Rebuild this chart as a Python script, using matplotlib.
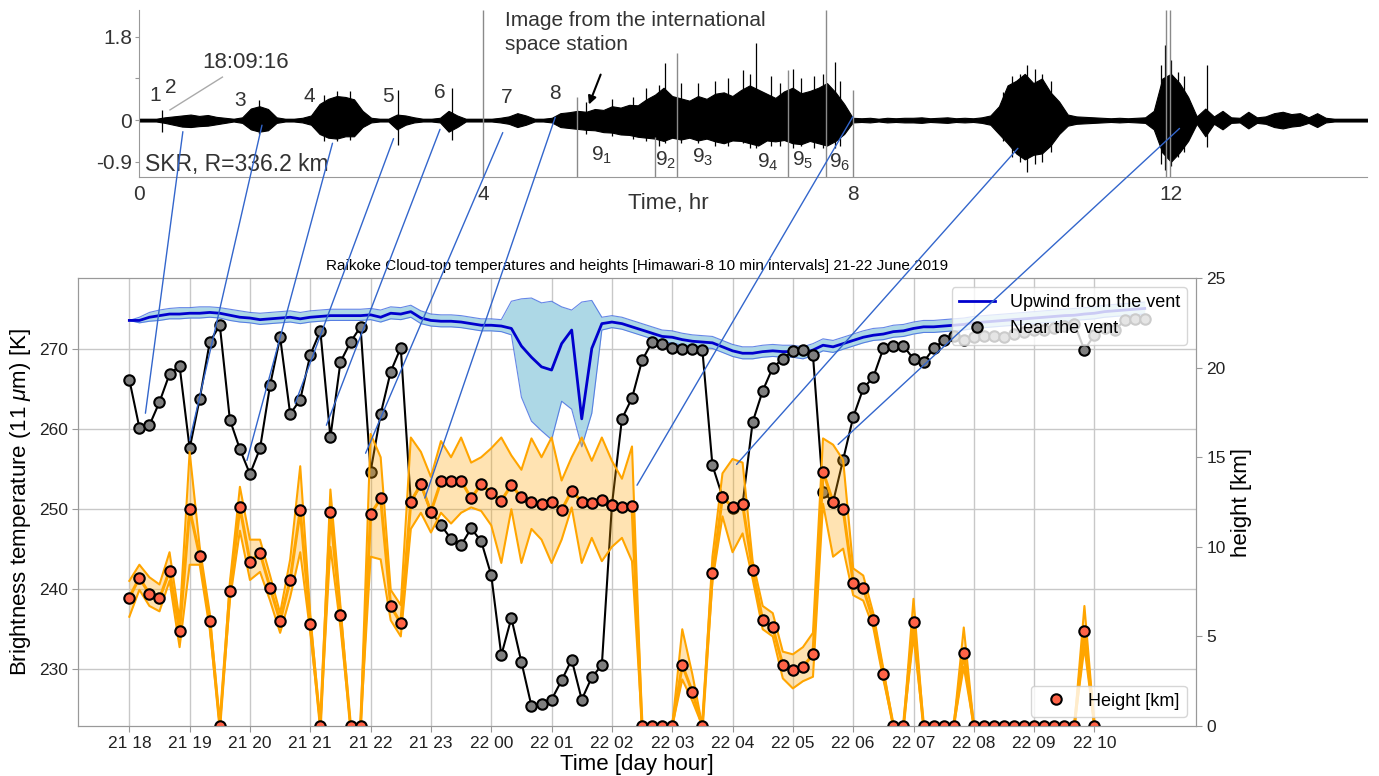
import numpy as np
import pandas as pd
import matplotlib
matplotlib.use("Agg")
import matplotlib.pyplot as plt
import matplotlib.dates as mdates
from matplotlib.patches import ConnectionPatch

plt.rcParams['font.family'] = ['Liberation Sans', 'DejaVu Sans']
plt.rcParams['mathtext.fontset'] = 'custom'
plt.rcParams['mathtext.rm'] = 'Liberation Sans'
plt.rcParams['mathtext.it'] = 'Liberation Sans:italic'

# ---------------- Himawari-8 data (10 min steps from 21 June 18:00) ----------------
near_vent = [266.2, 260.2, 260.5, 263.4, 266.9, 267.9, 257.6, 263.8, 270.9, 273.0,
             261.2, 257.5, 254.4, 257.6, 265.5, 271.5, 261.9, 263.7, 269.3, 272.3,
             259.0, 268.4, 270.9, 272.8, 254.7, 261.9, 267.2, 270.2, 250.9, 253.1,
             249.7, 248.0, 246.3, 245.5, 247.6, 246.0, 241.75, 231.75, 236.4, 230.9,
             225.4, 225.6, 226.2, 228.6, 231.2, 226.2, 229.0, 230.5, 250.5, 261.3,
             263.9, 268.6, 270.9, 270.6, 270.2, 270.0, 270.0, 269.9, 255.5, 251.55,
             250.2, 250.65, 260.9, 264.8, 267.7, 268.8, 269.8, 269.9, 269.25, 252.2,
             250.9, 256.2, 261.5, 265.1, 266.5, 270.1, 270.4, 270.4, 268.8, 268.4,
             270.1, 271.1, 271.6, 271.2, 271.5, 271.6, 271.6, 271.5, 271.9, 272.2,
             272.4, 272.4, 272.6, 272.9, 273.2, 269.9, 271.8, 272.6, 272.4, 273.6,
             273.8, 273.8]

upwind = [273.6, 273.6, 274.0, 274.2, 274.4, 274.4, 274.5, 274.5, 274.6, 274.5,
          274.25, 274.0, 273.9, 273.7, 273.8, 273.9, 274.0, 273.8, 274.0, 274.1,
          274.2, 274.2, 274.2, 274.2, 274.3, 274.0, 274.5, 274.4, 274.7, 273.9,
          273.6, 273.5, 273.5, 273.4, 273.2, 273.0, 273.0, 272.9, 272.6, 270.4,
          269.0, 267.8, 267.4, 270.7, 272.4, 261.3, 270.1, 273.2, 273.4, 273.2,
          272.8, 272.4, 272.0, 271.6, 271.5, 271.2, 271.0, 270.9, 270.8, 270.3,
          269.8, 269.5, 269.5, 269.7, 269.8, 269.7, 269.7, 269.5, 269.9, 270.5,
          270.3, 270.7, 271.1, 271.5, 271.75, 271.9, 272.2, 272.3, 272.6, 272.8,
          272.8, 272.9, 273.0, 273.1, 273.3, 273.4, 273.5, 273.6, 273.7, 273.8,
          273.9, 274.0, 274.1, 274.2, 274.25, 274.4, 274.5, 274.7, 274.8, 274.9,
          275.0, 275.1]

upwind_hi = [273.6, 274.0, 274.6, 274.9, 275.1, 275.2, 275.2, 275.3, 275.3, 275.2,
             275.0, 274.8, 274.6, 274.5, 274.6, 274.7, 274.8, 274.6, 274.8, 274.9,
             275.0, 275.0, 275.0, 275.0, 275.1, 274.9, 275.3, 275.2, 275.5, 274.8,
             274.4, 274.3, 274.3, 274.2, 274.0, 273.8, 273.8, 273.7, 276.0, 276.3,
             276.4, 275.8, 276.0, 275.3, 274.9, 275.9, 276.1, 274.0, 274.2, 274.0,
             273.6, 273.2, 272.8, 272.4, 272.3, 272.0, 271.8, 271.7, 271.6, 271.1,
             270.6, 270.3, 270.3, 270.5, 270.6, 270.5, 270.5, 270.3, 270.7, 271.3,
             271.1, 271.5, 271.9, 272.3, 272.6, 272.7, 273.0, 273.1, 273.4, 273.6,
             273.6, 273.7, 273.8, 273.9, 274.1, 274.2, 274.3, 274.4, 274.5, 274.6,
             274.7, 274.8, 274.9, 275.0, 275.1, 275.2, 275.3, 275.5, 275.6, 275.7,
             275.8, 275.9]

upwind_lo = [273.6, 273.3, 273.5, 273.6, 273.8, 273.8, 273.9, 273.9, 274.0, 273.9,
             273.6, 273.4, 273.3, 273.1, 273.2, 273.3, 273.4, 273.2, 273.4, 273.5,
             273.6, 273.6, 273.6, 273.6, 273.7, 273.4, 273.8, 273.7, 274.0, 273.2,
             272.9, 272.8, 272.8, 272.7, 272.5, 272.3, 272.3, 272.2, 271.8, 264.0,
             261.0, 259.8, 258.7, 263.5, 262.5, 257.8, 262.0, 272.4, 272.7, 272.5,
             272.1, 271.7, 271.3, 270.9, 270.8, 270.5, 270.3, 270.2, 270.1, 269.6,
             269.1, 268.8, 268.8, 269.0, 269.1, 269.0, 269.0, 268.8, 269.2, 269.8,
             269.6, 270.0, 270.4, 270.8, 271.1, 271.2, 271.5, 271.6, 271.9, 272.1,
             272.1, 272.2, 272.3, 272.4, 272.6, 272.7, 272.8, 272.9, 273.0, 273.1,
             273.2, 273.3, 273.4, 273.5, 273.6, 273.7, 273.8, 274.0, 274.1, 274.2,
             274.3, 274.4]

height = [7.16, 8.28, 7.37, 7.12, 8.67, 5.32, 12.09, 9.49, 5.86, 0,
          7.53, 12.2, 9.17, 9.67, 7.72, 5.86, 8.15, 12.05, 5.69, 0,
          11.92, 6.19, 0, 0, 11.81, 12.7, 6.7, 5.73, 12.52, 13.49,
          11.96, 13.65, 13.65, 13.7, 12.7, 13.5, 13.0, 12.57, 13.45, 12.76,
          12.52, 12.39, 12.52, 12.05, 13.13, 12.52, 12.46, 12.61, 12.33, 12.2,
          12.28, 0, 0, 0, 0, 3.4, 1.92, 0, 8.52, 12.8,
          12.2, 12.4, 8.7, 5.9, 5.5, 3.4, 3.1, 3.3, 4.0, 14.2,
          12.5, 12.1, 8.0, 7.7, 5.9, 2.9, 0, 0, 5.8, 0,
          0, 0, 0, 4.1, 0, 0, 0, 0, 0, 0,
          0, 0, 0, 0, 0, 5.3, 0]

height_hi = [8.1, 9.0, 8.3, 7.9, 9.7, 5.9, 15.3, 10.0, 6.3, 0,
             8.0, 13.35, 10.4, 10.4, 8.4, 6.3, 9.3, 14.5, 6.2, 0,
             13.2, 6.7, 0, 0, 16.3, 15.0, 7.6, 6.75, 16.1, 15.3,
             13.9, 15.9, 15.0, 16.1, 14.7, 15.0, 15.5, 16.1, 15.1, 14.3,
             16.05, 15.0, 16.1, 13.7, 15.0, 16.1, 14.8, 16.1, 14.8, 13.8,
             15.6, 0, 0, 0, 0, 5.4, 2.9, 0, 9.45, 14.1,
             14.9, 14.7, 9.2, 6.7, 6.3, 4.15, 4.0, 4.4, 5.2, 16.05,
             15.7, 14.85, 8.8, 8.4, 6.3, 3.2, 0, 0, 7.1, 0,
             0, 0, 0, 5.5, 0, 0, 0, 0, 0, 0,
             0, 0, 0, 0, 0, 6.7, 0]

height_lo = [6.1, 7.6, 6.7, 6.4, 8.1, 4.4, 9.0, 9.0, 5.4, 0,
             7.0, 10.9, 8.15, 8.6, 7.0, 5.2, 7.2, 9.7, 5.2, 0,
             10.0, 5.5, 0, 0, 9.45, 9.3, 5.9, 5.0, 11.0, 11.9,
             10.8, 11.9, 11.3, 11.9, 12.2, 12.0, 11.2, 9.1, 12.1, 9.1,
             11.0, 10.4, 9.1, 10.4, 12.2, 9.1, 10.5, 9.2, 10.0, 10.5,
             9.2, 0, 0, 0, 0, 2.6, 1.4, 0, 8.1, 11.7,
             9.7, 10.75, 8.2, 5.4, 5.0, 2.66, 2.1, 2.5, 2.75, 12.4,
             9.45, 9.9, 7.3, 7.0, 5.5, 2.6, 0, 0, 5.0, 0,
             0, 0, 0, 3.3, 0, 0, 0, 0, 0, 0,
             0, 0, 0, 0, 0, 4.4, 0]

xtick_labels = ['21 18', '21 19', '21 20', '21 21', '21 22', '21 23', '22 00', '22 01',
                '22 02', '22 03', '22 04', '22 05', '22 06', '22 07', '22 08', '22 09', '22 10']

# ---------------- SKR seismogram envelope (0.1 hr steps) ----------------
wave_up = [0.03, 0.03, 0.03, 0.06, 0.08, 0.10, 0.12, 0.09, 0.11, 0.07,
           0.05, 0.03, 0.06, 0.25, 0.30, 0.24, 0.06, 0.03, 0.03, 0.05,
           0.10, 0.35, 0.46, 0.52, 0.50, 0.45, 0.20, 0.05, 0.03, 0.03,
           0.12, 0.10, 0.06, 0.03, 0.03, 0.05, 0.20, 0.10, 0.03, 0.03,
           0.03, 0.03, 0.05, 0.08, 0.15, 0.10, 0.03, 0.03, 0.05, 0.15,
           0.17, 0.20, 0.18, 0.24, 0.22, 0.30, 0.27, 0.33, 0.32, 0.45,
           0.55, 0.70, 0.52, 0.47, 0.42, 0.52, 0.46, 0.57, 0.60, 0.52,
           0.65, 0.75, 0.66, 0.57, 0.48, 0.62, 0.70, 0.58, 0.63, 0.70,
           0.80, 0.60, 0.35, 0.05, 0.04, 0.05, 0.03, 0.05, 0.04, 0.05,
           0.05, 0.06, 0.04, 0.05, 0.06, 0.04, 0.05, 0.04, 0.06, 0.10,
           0.30, 0.75, 0.85, 1.00, 0.80, 0.90, 0.60, 0.40, 0.12, 0.08,
           0.07, 0.06, 0.05, 0.04, 0.05, 0.04, 0.05, 0.06, 0.20, 0.90,
           1.00, 0.80, 0.50, 0.08, 0.25, 0.08, 0.20, 0.06, 0.05, 0.18,
           0.06, 0.08, 0.15, 0.18, 0.13, 0.15, 0.06, 0.15, 0.05, 0.03,
           0.03, 0.03, 0.03, 0.03]
wave_dn = [0.03, 0.03, 0.03, 0.06, 0.10, 0.14, 0.15, 0.13, 0.12, 0.09,
           0.06, 0.03, 0.06, 0.20, 0.25, 0.22, 0.06, 0.03, 0.03, 0.05,
           0.10, 0.30, 0.38, 0.40, 0.35, 0.35, 0.15, 0.05, 0.03, 0.03,
           0.20, 0.10, 0.05, 0.03, 0.03, 0.05, 0.25, 0.15, 0.03, 0.03,
           0.03, 0.03, 0.05, 0.08, 0.15, 0.10, 0.03, 0.03, 0.05, 0.15,
           0.17, 0.19, 0.21, 0.22, 0.26, 0.27, 0.31, 0.32, 0.36, 0.38,
           0.40, 0.45, 0.38, 0.42, 0.38, 0.44, 0.40, 0.46, 0.50, 0.44,
           0.45, 0.50, 0.55, 0.44, 0.46, 0.43, 0.50, 0.52, 0.45, 0.50,
           0.55, 0.45, 0.30, 0.05, 0.04, 0.05, 0.03, 0.05, 0.04, 0.05,
           0.05, 0.06, 0.04, 0.05, 0.06, 0.04, 0.05, 0.04, 0.06, 0.10,
           0.30, 0.50, 0.72, 0.85, 0.75, 0.72, 0.55, 0.30, 0.12, 0.08,
           0.07, 0.06, 0.05, 0.04, 0.05, 0.04, 0.05, 0.06, 0.20, 0.70,
           0.90, 0.70, 0.45, 0.08, 0.35, 0.08, 0.20, 0.06, 0.05, 0.18,
           0.06, 0.08, 0.15, 0.18, 0.14, 0.12, 0.06, 0.15, 0.05, 0.03,
           0.03, 0.03, 0.03, 0.03]

spike_t = [0.27, 1.4, 2.15, 2.3, 2.45, 3.01, 3.64, 5.2, 5.5, 5.75, 5.9, 6.05, 6.12, 6.3,
           6.5, 6.7, 6.85, 7.02, 7.1, 7.17, 7.35, 7.45, 7.6, 7.7, 7.85, 7.95, 8.09, 8.15,
           10.05, 10.15, 10.25, 10.33, 10.42, 10.5, 10.6, 11.88, 11.93, 12.0, 12.08, 12.15, 12.42]
spike_up = [0.22, 0.43, 0.55, 0.62, 0.62, 0.65, 0.69, 0.4, 0.45, 0.5, 0.7, 0.75, 1.23, 0.8,
            0.8, 0.85, 0.9, 1.08, 1.0, 1.66, 0.95, 0.8, 1.1, 0.9, 0.95, 1.0, 1.25, 0.85,
            0.6, 0.95, 1.0, 1.19, 1.1, 1.0, 0.85, 1.2, 1.62, 1.3, 1.05, 0.95, 1.19]
spike_dn = [0.25, 0.3, 0.45, 0.45, 0.42, 0.54, 0.43, 0.3, 0.35, 0.4, 0.45, 0.55, 0.5, 0.5,
            0.5, 0.55, 0.55, 0.5, 0.6, 0.6, 0.55, 0.55, 0.6, 0.55, 0.6, 0.6, 0.6, 0.55,
            0.45, 0.8, 0.9, 1.12, 0.95, 0.9, 0.7, 0.95, 1.08, 1.0, 0.8, 0.7, 0.58]

sep_t = [4.0, 5.09, 6.0, 6.26, 7.55, 7.99, 8.3, 11.94, 11.99]
sep_top = [2.38, 0.5, -0.37, 1.45, 1.08, 2.38, 0.65, 2.38, 2.38]

event_labels = ['1', '2', '3', '4', '5', '6', '7', '8']
event_t = [0.19, 0.37, 1.17, 1.98, 2.9, 3.5, 4.28, 4.84]
event_amp = [0.32, 0.5, 0.22, 0.30, 0.30, 0.39, 0.28, 0.37]

sub_labels = ['$9_1$', '$9_2$', '$9_3$', '$9_4$', '$9_5$', '$9_6$']
sub_t = [5.38, 6.12, 6.55, 7.31, 7.72, 8.15]
sub_amp = [-0.76, -0.86, -0.8, -0.91, -0.86, -0.91]

# links: seismic event -> satellite time
link_t = [0.51, 1.43, 2.25, 2.96, 3.50, 4.23, 4.84, 8.30, 10.22, 12.10]
link_amp = [-0.25, -0.11, -0.50, -0.40, -0.20, -0.27, 0.06, 0.07, -0.61, -0.18]
link_time = ['2019-06-21 18:16', '2019-06-21 19:00', '2019-06-21 19:57', '2019-06-21 20:45',
             '2019-06-21 21:16', '2019-06-21 21:55', '2019-06-21 22:54', '2019-06-22 02:25',
             '2019-06-22 04:04', '2019-06-22 05:45']
link_temp = [262.0, 258.6, 256.1, 263.25, 260.5, 257.0, 251.4, 253.0, 255.6, 258.1]

times = pd.date_range('2019-06-21 18:00', periods=len(near_vent), freq='10min')
h_times = times[:len(height)]
hour_ticks = pd.date_range('2019-06-21 18:00', '2019-06-22 10:00', freq='h')

fig = plt.figure(figsize=(13.79, 7.76), dpi=100)

# ---------------- top: seismogram ----------------
txt = '#333333'
axs = fig.add_axes([0.1008, 0.7719, 0.8905, 0.2152])
wave_t = np.round(np.arange(len(wave_up)) * 0.1, 1)
axs.fill_between(wave_t, -np.array(wave_dn), wave_up, color='black', lw=0.8)
axs.axhline(0, color='black', lw=1.2)
axs.vlines(spike_t, -np.array(spike_dn), spike_up, color='black', lw=0.9)
axs.vlines(sep_t, -1.23, sep_top, color='#8a8a8a', lw=1)
axs.set_xlim(0, 14.28)
axs.set_ylim(-1.23, 2.38)
for s in ['top', 'right']:
    axs.spines[s].set_visible(False)
for s in ['left', 'bottom']:
    axs.spines[s].set_color('#999999')
axs.set_xticks([0, 4, 8.3, 12])
axs.set_xticklabels(['0', '4', '8', '12'])
axs.set_yticks([-0.9, 0, 0.9, 1.8])
axs.set_yticklabels(['-0.9', '0', '', '1.8'])
axs.tick_params(axis='x', length=0, pad=6, labelsize=15, labelcolor=txt)
axs.tick_params(axis='y', length=3, pad=2, labelsize=15, labelcolor=txt, color='#999999')
for lab, t, a in zip(event_labels, event_t, event_amp):
    axs.text(t, a, lab, fontsize=15, color=txt, ha='center', va='bottom')
for lab, t, a in zip(sub_labels, sub_t, sub_amp):
    axs.text(t, a, lab, fontsize=15, color=txt, ha='center', va='center')
axs.text(0.73, 1.25, '18:09:16', fontsize=16, color=txt, ha='left', va='center')
axs.plot([0.97, 0.36], [0.93, 0.22], color='#aaaaaa', lw=1)
axs.text(0.07, -0.95, 'SKR, R=336.2 km', fontsize=16.5, color=txt, ha='left', va='center')
axs.text(4.26, 2.36, 'Image from the international\nspace station', fontsize=15,
         color=txt, ha='left', va='top', linespacing=1.35)
axs.annotate('', xy=(5.22, 0.28), xytext=(5.38, 1.04),
             arrowprops=dict(arrowstyle='-|>', color='black', lw=1.5, mutation_scale=12))
axs.text(6.16, -1.81, 'Time, hr', fontsize=16, color=txt, ha='center', va='center',
         clip_on=False)

# ---------------- bottom: cloud-top temperature and height ----------------
ax1 = fig.add_axes([0.0566, 0.0644, 0.8107, 0.5773])
ax1.set_axisbelow(True)
ax1.grid(True, color='#c8c8c8', lw=1)
ax1.fill_between(times, upwind_lo, upwind_hi, color='lightblue', lw=0, zorder=1)
ax1.plot(times, upwind_hi, color='royalblue', lw=0.8, alpha=0.8, zorder=1.5)
ax1.plot(times, upwind_lo, color='royalblue', lw=0.8, alpha=0.8, zorder=1.5)
l_up, = ax1.plot(times, upwind, color='mediumblue', lw=2, label='Upwind from the vent', zorder=2)
ax1.plot(times, near_vent, color='black', lw=1.5, zorder=3)
l_near, = ax1.plot(times, near_vent, 'o', ms=7.5, mfc='#7f7f7f', mec='black', mew=1.5,
                   label='Near the vent', zorder=3)
ax1.set_ylim(222.9, 278.9)
ax1.set_yticks([230, 240, 250, 260, 270])
ax1.set_xlim(pd.Timestamp('2019-06-21 17:09'), pd.Timestamp('2019-06-22 11:41'))
ax1.set_xticks(hour_ticks.to_pydatetime())
ax1.set_xticklabels(xtick_labels)
ax1.set_ylabel('Brightness temperature (11 $\\mu$m) [K]', fontsize=16)
ax1.set_xlabel('Time [day hour]', fontsize=16, labelpad=2)
ax1.set_title('Raikoke Cloud-top temperatures and heights [Himawari-8 10 min intervals] 21-22 June 2019',
              fontsize=11)
ax1.legend(handles=[l_up, l_near], loc='upper right', fontsize=13, framealpha=0.8)

ax2 = ax1.twinx()
ax2.fill_between(h_times, height_lo, height_hi, color='orange', alpha=0.3, lw=0)
ax2.plot(h_times, height_hi, color='orange', lw=1.5)
ax2.plot(h_times, height_lo, color='orange', lw=1.5)
ax2.plot(h_times, height, color='orange', lw=2.2)
ax2.plot(h_times, height, 'o', ls='none', ms=7.5, mfc='tomato', mec='black', mew=1.5,
         label='Height [km]')
ax2.set_ylim(0, 25)
ax2.set_yticks([0, 5, 10, 15, 20, 25])
ax2.set_ylabel('height [km]', fontsize=16)
ax2.legend(loc='lower right', fontsize=13, framealpha=0.8)

for ax in (ax1, ax2):
    for s in ax.spines.values():
        s.set_color('#999999')
    ax.tick_params(labelsize=12.5, color='#999999', length=4, labelcolor='#222222')

# blue links between seismic bursts and satellite time
for t, a, tm, k in zip(link_t, link_amp, link_time, link_temp):
    con = ConnectionPatch(xyA=(t, a), coordsA=axs.transData,
                          xyB=(mdates.date2num(pd.Timestamp(tm)), k), coordsB=ax1.transData,
                          color='#3366cc', lw=1, zorder=20)
    fig.add_artist(con)

fig.savefig('out.png', dpi=100)
